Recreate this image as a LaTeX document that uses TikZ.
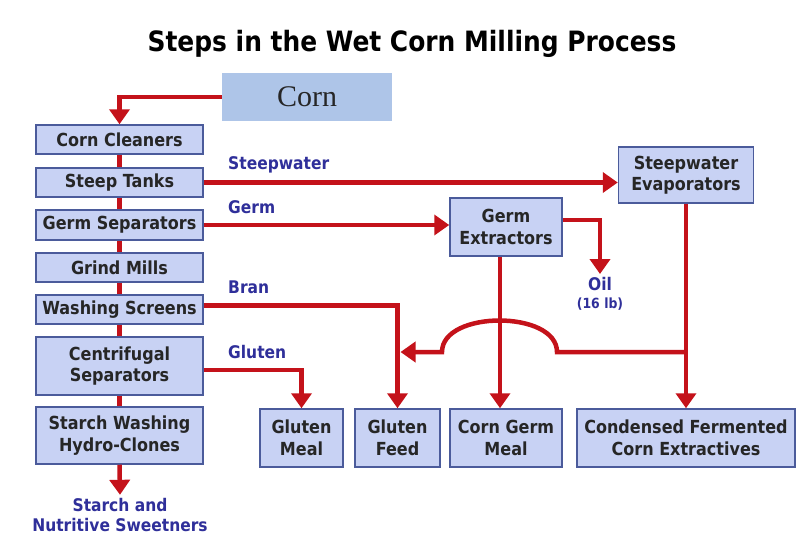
\documentclass[tikz,border=0pt]{standalone}
\usepackage{fontspec}
\setmainfont[FakeStretch=0.89]{DejaVu Sans}
\newfontfamily\cornfont{Liberation Serif}
\usetikzlibrary{arrows.meta,calc}
\definecolor{boxfill}{HTML}{C8D2F4}
\definecolor{boxline}{HTML}{4B5B9B}
\definecolor{cornfill}{HTML}{AEC5E8}
\definecolor{flow}{HTML}{C4121A}
\definecolor{lbl}{HTML}{2F2F9A}
\definecolor{txt}{HTML}{262626}
\begin{document}
\begin{tikzpicture}[x=1pt,y=-1pt,
  box/.style={draw=boxline, line width=1.5pt, fill=boxfill, text=txt,
    font=\bfseries\fontsize{18}{21.5}\selectfont, align=center, inner sep=0pt},
  flowline/.style={draw=flow, line width=4.5pt},
  arr/.style={flowline, -{Triangle[width=20pt,length=15pt]}},
  lab/.style={text=lbl, font=\bfseries\fontsize{17.4}{20.5}\selectfont, align=center, inner sep=0pt}]
\useasboundingbox[fill=white] (0,0) rectangle (800,558);

\node[font=\bfseries\fontsize{28}{32}\selectfont, text=black] (title) at (412,44) {Steps in the Wet Corn Milling Process};

\node[fill=cornfill, minimum width=170pt, minimum height=48pt, inner sep=0pt,
  font=\cornfont\fontsize{30}{34}\selectfont, text=txt] (corn) at (307,97) {Corn};

% left column
\node[box, minimum width=167pt, minimum height=29pt] (cc) at (119.5,139.5) {Corn Cleaners};
\node[box, minimum width=167pt, minimum height=29pt] (st) at (119.5,182.5) {Steep Tanks};
\node[box, minimum width=167pt, minimum height=30pt] (gs) at (119.5,225) {Germ Separators};
\node[box, minimum width=167pt, minimum height=29pt] (gm) at (119.5,267.5) {Grind Mills};
\node[box, minimum width=167pt, minimum height=29pt] (ws) at (119.5,309.5) {Washing Screens};
\node[box, minimum width=167pt, minimum height=58pt] (cs) at (119.5,366) {Centrifugal\\Separators};
\node[box, minimum width=167pt, minimum height=57pt] (sw) at (119.5,435.5) {Starch Washing\\Hydro-Clones};
\node[lab, inner sep=3pt] (out) at (120,515) {Starch and\\Nutritive Sweetners};

% right side
\node[box, minimum width=135pt, minimum height=56pt] (se) at (686,175) {Steepwater\\Evaporators};
\node[box, minimum width=112pt, minimum height=58pt] (ge) at (506,227) {Germ\\Extractors};
\node[lab, inner sep=3pt] (oil) at (600,294) {Oil\\[-2pt]{\fontsize{14}{16}\selectfont (16 lb)}};

% bottom products
\node[box, minimum width=83pt, minimum height=58pt] (gml) at (301.5,438) {Gluten\\Meal};
\node[box, minimum width=85pt, minimum height=58pt] (gf) at (397.5,438) {Gluten\\Feed};
\node[box, minimum width=112pt, minimum height=58pt] (cgm) at (506,438) {Corn Germ\\Meal};
\node[box, minimum width=218pt, minimum height=58pt] (cfce) at (686,438) {Condensed Fermented\\Corn Extractives};

% labels
\node[lab, anchor=west] (lsw) at (228,165) {Steepwater};
\node[lab, anchor=west] (lgm) at (228,207) {Germ};
\node[lab, anchor=west] (lbr) at (228,287) {Bran};
\node[lab, anchor=west] (lgl) at (228,352) {Gluten};

% connectors
\draw[arr] (corn.west) -| (cc.north);
\draw[flowline] (cc.south) -- (st.north);
\draw[flowline] (st.south) -- (gs.north);
\draw[flowline] (gs.south) -- (gm.north);
\draw[flowline] (gm.south) -- (ws.north);
\draw[flowline] (ws.south) -- (cs.north);
\draw[flowline] (cs.south) -- (sw.north);
\draw[arr] (sw.south) -- (out.north);

\draw[arr] (st.east) -- (st.east -| se.west);
\draw[arr] (gs.east) -- (gs.east -| ge.west);
\draw[arr] ([yshift=7pt]ge.east) -| (oil.north);
\draw[arr] ([yshift=4pt]ws.east) -| (gf.north);
\draw[arr] ([yshift=-4pt]cs.east) -| (gml.north);
\draw[arr] ([xshift=-6pt]ge.south) -- ([xshift=-6pt]cgm.north);
\draw[arr] (se.south) -- (cfce.north);

\coordinate (j) at (686,352);
\coordinate (hopR) at (557,352);
\coordinate (hopL) at (442,352);
\draw[arr] (j) -- (hopR) .. controls (557,310) and (442,310) .. (hopL) -- ($(gf.north |- j)+(3,0)$);
\end{tikzpicture}
\end{document}
